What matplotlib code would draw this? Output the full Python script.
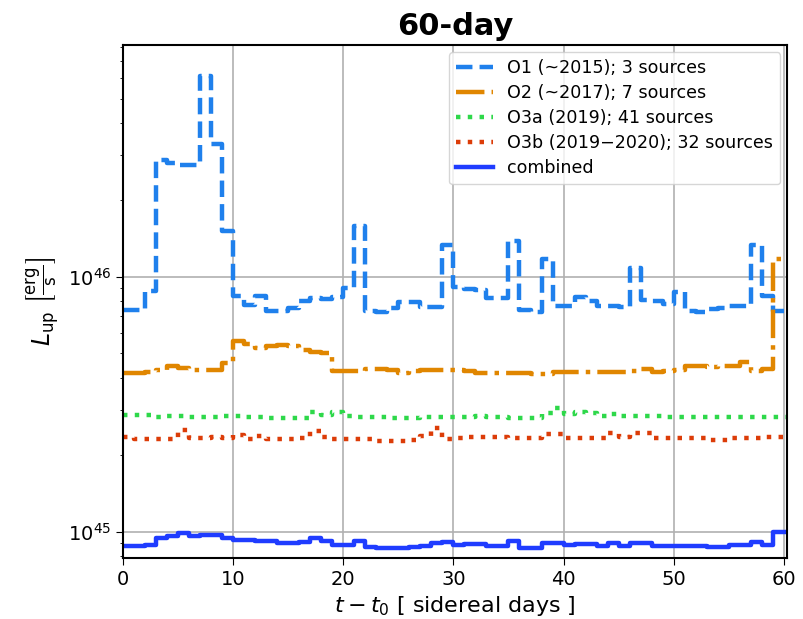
import numpy as np
import matplotlib
matplotlib.use("Agg")
import matplotlib.pyplot as plt

# Upper limits on luminosity per sidereal day, 60-day window
days = np.arange(0, 61)  # bin edges in sidereal days

o1 = [7.38, 7.38, 8.81, 28.7, 28.0, 27.5, 27.5, 61.5, 33.2, 15.1,
      8.37, 7.77, 8.37, 7.31, 7.31, 7.54, 8.0, 8.24, 8.2, 8.3,
      9.0, 15.85, 7.31, 7.25, 7.54, 7.95, 7.95, 7.6, 7.6, 13.35,
      9.11, 8.95, 8.9, 8.25, 8.25, 13.75, 7.42, 7.27, 11.7, 7.7,
      7.7, 8.3, 8.0, 7.7, 7.65, 7.6, 10.8, 8.1, 8.0, 7.85,
      8.7, 7.31, 7.3, 7.45, 7.55, 7.65, 7.65, 13.35, 8.4, 7.33]  # 1e45 erg/s

o2 = [4.19, 4.19, 4.22, 4.32, 4.45, 4.38, 4.32, 4.32, 4.32, 4.59,
      5.61, 5.46, 5.25, 5.33, 5.38, 5.33, 5.14, 5.07, 5.02, 4.28,
      4.26, 4.27, 4.36, 4.36, 4.32, 4.20, 4.25, 4.30, 4.30, 4.30,
      4.30, 4.27, 4.19, 4.19, 4.19, 4.19, 4.19, 4.15, 4.15, 4.22,
      4.22, 4.22, 4.22, 4.24, 4.24, 4.22, 4.28, 4.33, 4.22, 4.28,
      4.31, 4.48, 4.45, 4.42, 4.45, 4.48, 4.62, 4.26, 4.33, 11.7]  # 1e45 erg/s

o3a = [2.88, 2.87, 2.87, 2.82, 2.84, 2.84, 2.81, 2.81, 2.81, 2.85,
       2.85, 2.81, 2.82, 2.79, 2.78, 2.78, 2.80, 2.94, 2.86, 2.95,
       2.85, 2.82, 2.82, 2.81, 2.79, 2.79, 2.80, 2.81, 2.81, 2.81,
       2.82, 2.82, 2.85, 2.82, 2.81, 2.79, 2.79, 2.80, 2.93, 3.05,
       2.90, 2.94, 2.93, 2.85, 2.90, 2.84, 2.84, 2.84, 2.84, 2.81,
       2.81, 2.81, 2.81, 2.81, 2.81, 2.81, 2.81, 2.81, 2.82, 2.82]  # 1e45 erg/s

o3b = [2.35, 2.31, 2.31, 2.30, 2.30, 2.51, 2.32, 2.32, 2.36, 2.32,
       2.40, 2.30, 2.37, 2.31, 2.31, 2.31, 2.34, 2.49, 2.36, 2.31,
       2.31, 2.30, 2.30, 2.26, 2.26, 2.26, 2.28, 2.38, 2.55, 2.31,
       2.32, 2.35, 2.35, 2.35, 2.35, 2.33, 2.33, 2.33, 2.41, 2.41,
       2.32, 2.32, 2.33, 2.34, 2.43, 2.35, 2.44, 2.44, 2.33, 2.33,
       2.32, 2.32, 2.32, 2.29, 2.29, 2.34, 2.34, 2.34, 2.36, 2.36]  # 1e45 erg/s

combined = [8.75, 8.75, 8.9, 9.45, 9.6, 9.9, 9.6, 9.73, 9.73, 9.45,
            9.3, 9.25, 9.2, 9.15, 9.05, 9.05, 9.1, 9.45, 9.2, 8.9,
            8.9, 9.17, 8.71, 8.66, 8.66, 8.66, 8.7, 8.8, 9.05, 9.1,
            8.9, 8.95, 8.95, 8.8, 8.8, 9.17, 8.66, 8.66, 9.05, 9.05,
            8.9, 8.95, 8.95, 8.8, 9.0, 8.75, 9.0, 9.0, 8.8, 8.8,
            8.8, 8.8, 8.8, 8.7, 8.7, 8.9, 8.9, 9.1, 8.9, 10.0]  # 1e44 erg/s

labels = ["O1 (~2015); 3 sources",
          "O2 (~2017); 7 sources",
          "O3a (2019); 41 sources",
          "O3b (2019\u22122020); 32 sources",
          "combined"]

XMAX = 60.3


def step_xy(vals, scale):
    v = np.asarray(vals) * scale
    x = np.append(days[:-1], [days[-1], XMAX])
    y = np.append(v, [v[-1], v[-1]])
    return x, y


fig = plt.figure(figsize=(8.04, 6.19), dpi=100)
ax = fig.add_axes([0.153, 0.099, 0.826, 0.828])

styles = [
    (o1, 1e45, "#1f80ec", "--"),
    (o2, 1e45, "#e08600", "-."),
    (o3a, 1e45, "#2ed84a", ":"),
    (o3b, 1e45, "#dc3c08", ":"),
    (combined, 1e44, "#1f3cff", "-"),
]
for (vals, sc, col, ls), lab in zip(styles, labels):
    x, y = step_xy(vals, sc)
    ax.plot(x, y, drawstyle="steps-post", color=col, ls=ls, lw=3.2, label=lab)

ax.set_yscale("log")
ax.set_xlim(0, XMAX)
ax.set_ylim(7.9e44, 8.1e46)
ax.set_xticks([0, 10, 20, 30, 40, 50, 60])
ax.grid(True, which="major", color="#b0b0b0", lw=1.2)
ax.tick_params(axis="both", which="major", labelsize=14, length=5)
for s in ax.spines.values():
    s.set_linewidth(1.5)

ax.set_xlabel(r"$t - t_0$ [ sidereal days ]", fontsize=16)
ax.set_ylabel(r"$L_{\rm up}\ \left[\frac{\rm erg}{\rm s}\right]$", fontsize=17)
ax.set_title("60-day", fontsize=22, fontweight="bold", pad=7)

ax.legend(loc="upper right", fontsize=12.6, handlelength=2.1,
          borderaxespad=0.4, labelspacing=0.4)

fig.savefig("out.png", dpi=100)
